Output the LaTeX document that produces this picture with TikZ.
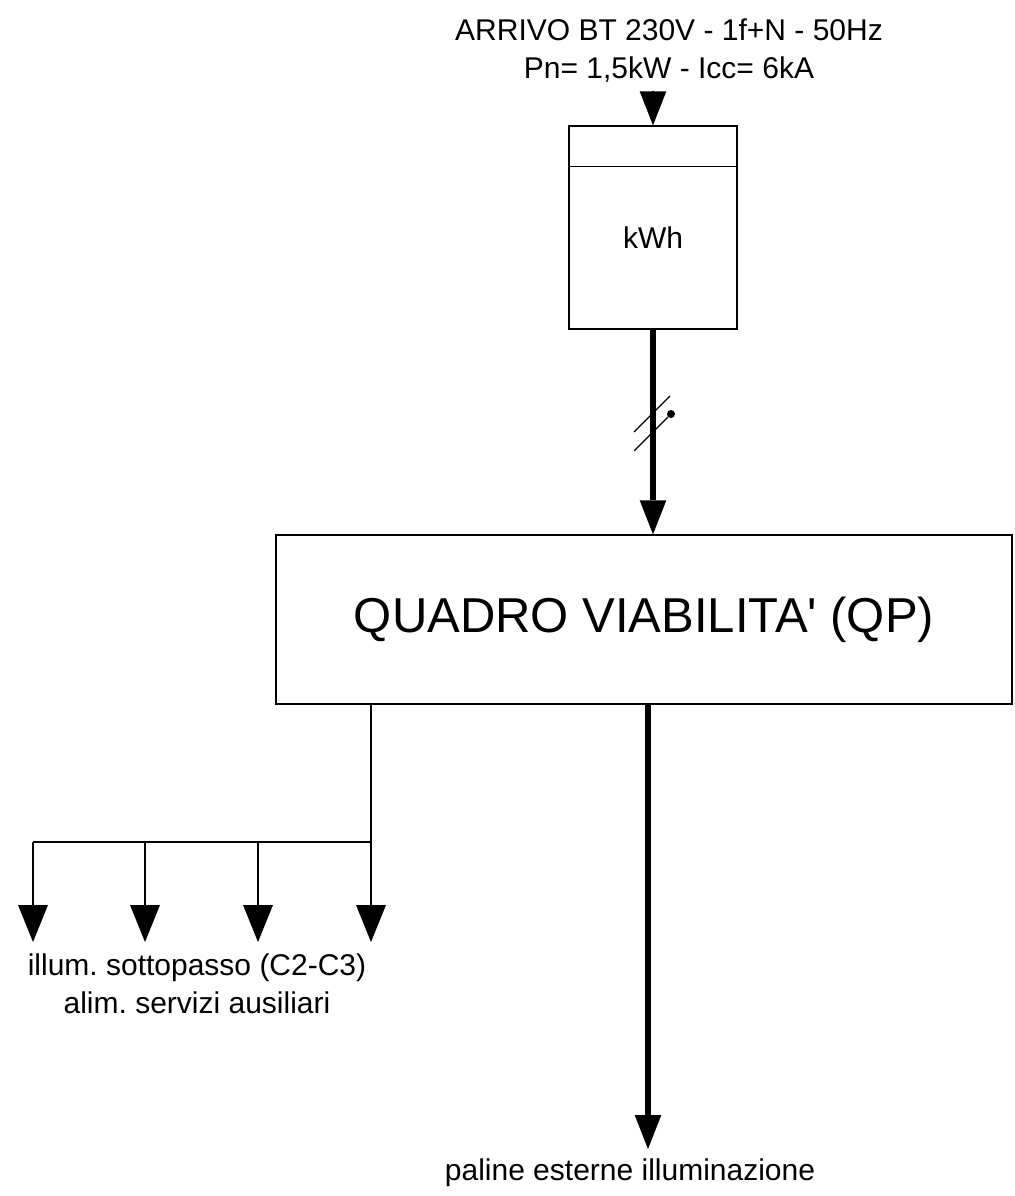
\documentclass[tikz,border=0pt]{standalone}
\usepackage{fontspec}
\setmainfont{Liberation Sans}
\usetikzlibrary{arrows.meta,calc}
\newcommand\diagfont{\fontsize{22.5}{28.5}\selectfont}
\frenchspacing

\begin{document}
\begin{tikzpicture}[x=0.75pt,y=0.75pt,yscale=-1,xscale=1,
  feed/.style={-{Triangle[width=20pt 0,length=25.5pt 0,line width=0pt 0]}},
  tap/.style={-{Triangle[width=22.5pt 0,length=27.75pt 0,line width=0pt 0]}},
  heavy/.style={line width=4pt},
  light/.style={line width=1pt},
  box/.style={draw,line width=1pt,rectangle,inner sep=0pt},
  txt/.style={inner sep=0pt,font=\diagfont}]
\useasboundingbox (0,0) rectangle (1014,1196);

% Text Node
\node (arrivo) [txt,anchor=north,align=center] at (669,19) {ARRIVO BT 230V - 1f+N - 50Hz\\Pn= 1,5kW - Icc= 6kA};

%Shape: Rectangle [meter]
\node (meter) [box,minimum width=126pt,minimum height=152.25pt] at (653,227.5) {};
%Straight Lines [meter divider]
\draw [light] ($(meter.north west)+(0,41)$) -- ($(meter.north east)+(0,41)$);
% Text Node
\node (kwh) [txt,anchor=base] at (653,248) {kWh};

%Straight Lines [supply]
\coordinate (supply) at (653,92.5);
\draw [light,feed] (supply) -- (meter.north);

%Shape: Rectangle [QP]
\node (qp) [box,minimum width=552pt,minimum height=126.75pt,font=\fontsize{36.75}{44}\selectfont] at (644,619.5) {QUADRO VIABILITA\textquotesingle\ (QP)};

%Straight Lines [meter to QP]
\draw [heavy,feed] (meter.south) -- (meter.south |- qp.north);
%Straight Lines [conductor marks]
\draw [light] (634,432) -- (670,396);
\draw [light] (634,451) -- (668,417);
%Shape: Circle
\fill (671,414) circle (3pt);

%Straight Lines [branches]
\coordinate (bus) at (371,842);
\draw [light] (qp.south -| bus) -- (bus);
\foreach \x [count=\i] in {33,145,258,371} {
  \coordinate (branch\i) at (\x,942);
  \draw [light,tap] (bus -| branch\i) -- (branch\i);
}
\draw [light] (bus) -- (bus -| branch1);
% Text Node
\node (sottopasso) [txt,anchor=north,align=center] at (197,953) {illum. sottopasso (C2-C3)\\alim. servizi ausiliari};

%Straight Lines [paline]
\coordinate (paline) at (648,1149);
\draw [heavy,feed] (qp.south -| paline) -- (paline);
% Text Node
\node (palinetxt) [txt,anchor=base] at (630,1180) {paline esterne illuminazione};

\end{tikzpicture}
\end{document}
